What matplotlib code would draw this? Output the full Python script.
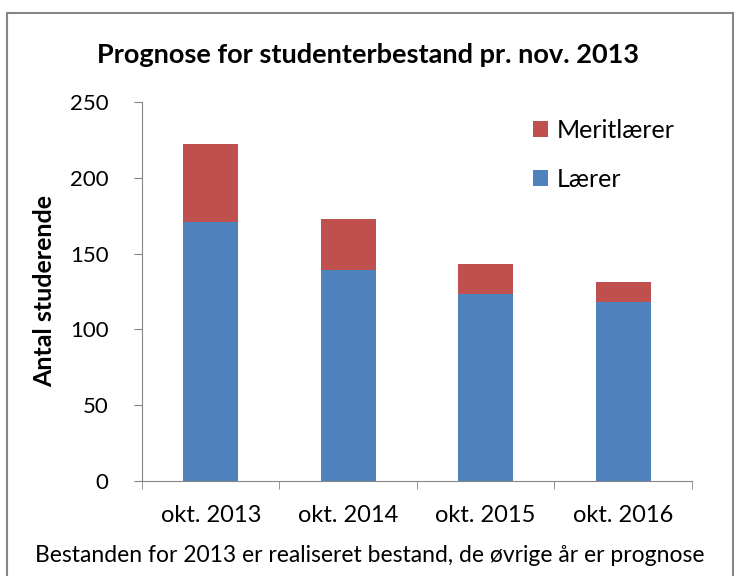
import matplotlib.pyplot as plt
from matplotlib.patches import Rectangle

categories = ['okt. 2013', 'okt. 2014', 'okt. 2015', 'okt. 2016']
laerer = [171, 139, 123, 118]
meritlaerer = [51, 34, 20, 13]

blue = '#4f81bd'
red = '#c0504d'

plt.rcParams['font.family'] = ['Lato', 'DejaVu Sans']

fig = plt.figure(figsize=(7.36, 5.76), dpi=100)
ax = fig.add_axes([0.193, 0.165, 0.747, 0.658])

x = range(len(categories))
ax.bar(x, laerer, width=0.4, color=blue, label='Lærer')
ax.bar(x, meritlaerer, width=0.4, bottom=laerer, color=red, label='Meritlærer')

ax.set_xlim(-0.5, 3.5)
ax.set_ylim(0, 250)
ax.set_yticks(range(0, 251, 50))
ax.set_xticks(list(x))
ax.set_xticklabels(categories)
ax.set_xticks([-0.5, 0.5, 1.5, 2.5, 3.5], minor=True)
ax.tick_params(axis='x', which='major', length=0, pad=17, labelsize=17)
ax.tick_params(axis='x', which='minor', length=6, color='#868686')
ax.tick_params(axis='y', length=6, color='#868686', labelsize=16, pad=18)

for s in ['top', 'right']:
    ax.spines[s].set_visible(False)
for s in ['left', 'bottom']:
    ax.spines[s].set_color('#868686')

ax.set_ylabel('Antal studerende', fontsize=18, fontweight='bold', labelpad=10)

handles, labels = ax.get_legend_handles_labels()
ax.legend(handles[::-1], labels[::-1], loc='upper left', bbox_to_anchor=(0.67, 1.015),
          frameon=False, fontsize=18, handlelength=0.6, handleheight=0.6,
          handletextpad=0.35, labelspacing=1.05)

fig.text(0.5, 0.905, 'Prognose for studenterbestand pr. nov. 2013', ha='center',
         va='center', fontsize=19.5, fontweight='bold')
fig.text(0.503, 0.035, 'Bestanden for 2013 er realiseret bestand, de øvrige år er prognose',
         ha='center', va='center', fontsize=16.5)

fig.patches.append(Rectangle((7 / 736, -0.02), 726 / 736, 1.02 - 13 / 576,
                             transform=fig.transFigure, fill=False,
                             edgecolor='#868686', linewidth=1.5))

fig.savefig('out.png', dpi=100)
